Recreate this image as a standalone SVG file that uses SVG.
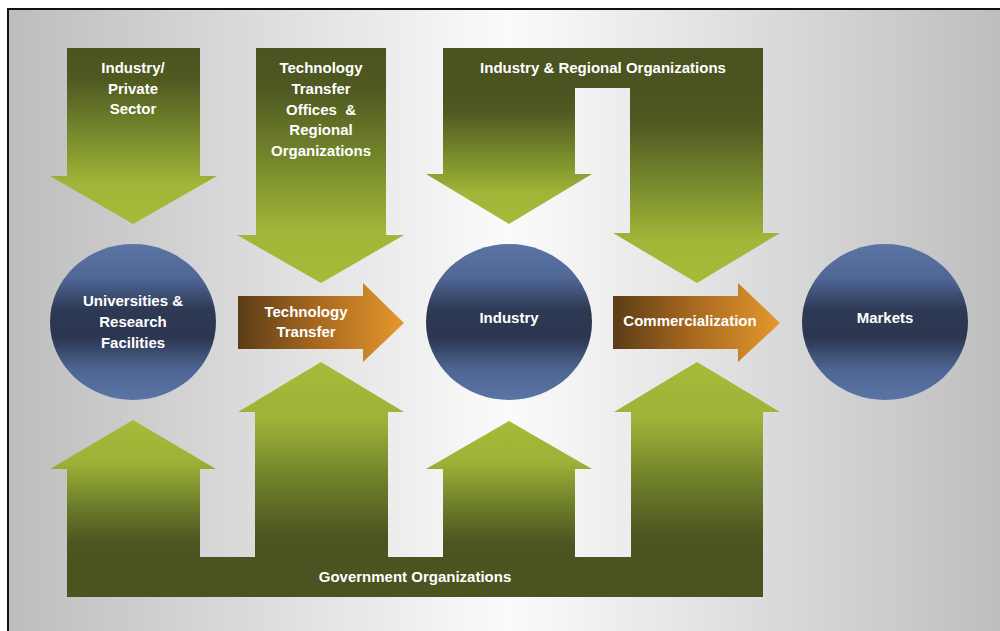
<svg xmlns="http://www.w3.org/2000/svg" width="1000" height="631" viewBox="0 0 1000 631">
  <defs>
    <linearGradient id="bg" x1="0" y1="0" x2="1" y2="0">
      <stop offset="0" stop-color="#bdbdbd"/>
      <stop offset="0.5" stop-color="#fbfbfb"/>
      <stop offset="1" stop-color="#bdbdbd"/>
    </linearGradient>
    <!-- downward green arrows: dark at the top, bright at the head -->
    <linearGradient id="greenDown" x1="0" y1="0" x2="0" y2="1">
      <stop offset="0" stop-color="#4b5320"/>
      <stop offset="0.18" stop-color="#4f5921"/>
      <stop offset="0.5" stop-color="#788b2d"/>
      <stop offset="0.78" stop-color="#a1b638"/>
      <stop offset="1" stop-color="#a6bb39"/>
    </linearGradient>
    <!-- upward green arrows: bright at the head, dark at the base -->
    <linearGradient id="greenUp" x1="0" y1="0" x2="0" y2="1">
      <stop offset="0" stop-color="#a6bb39"/>
      <stop offset="0.3" stop-color="#9db237"/>
      <stop offset="0.62" stop-color="#6c7d2a"/>
      <stop offset="0.88" stop-color="#4d5621"/>
      <stop offset="1" stop-color="#4b5320"/>
    </linearGradient>
    <linearGradient id="orange" x1="0" y1="0" x2="1" y2="0">
      <stop offset="0" stop-color="#5b3c17"/>
      <stop offset="0.45" stop-color="#a4661f"/>
      <stop offset="1" stop-color="#e5982c"/>
    </linearGradient>
    <linearGradient id="globe" x1="0" y1="0" x2="0" y2="1">
      <stop offset="0" stop-color="#5a74a4"/>
      <stop offset="0.22" stop-color="#4f6795"/>
      <stop offset="0.42" stop-color="#2e3954"/>
      <stop offset="0.6" stop-color="#2c3650"/>
      <stop offset="0.8" stop-color="#4d6592"/>
      <stop offset="1" stop-color="#5a74a4"/>
    </linearGradient>
  </defs>
  <style>
    .lbl { font-family: "Liberation Sans", Arial, sans-serif; font-weight: bold; font-size: 15px; fill: #ffffff; text-anchor: middle; }
    .down { fill: url(#greenDown); }
    .up { fill: url(#greenUp); }
    .bar { fill: #4b5320; }
    .flow { fill: url(#orange); }
    .globe { fill: url(#globe); }
  </style>

  <!-- backdrop and frame -->
  <rect x="0" y="0" width="1000" height="631" fill="#ffffff"/>
  <rect x="8" y="9" width="1000" height="640" fill="url(#bg)" stroke="#111111" stroke-width="2"/>

  <!-- supporting organisations: downward arrows -->
  <g id="industry-private-sector">
    <path class="down" d="M67,48 H200 V176 H217 L133,224 L50,176 H67 Z"/>
    <text class="lbl" x="133" y="73">Industry/</text>
    <text class="lbl" x="133" y="94">Private</text>
    <text class="lbl" x="133" y="114">Sector</text>
  </g>

  <g id="tto-regional-organizations">
    <path class="down" d="M256,48 H386 V235 H404 L321,283 L237,235 H256 Z"/>
    <text class="lbl" x="321" y="73">Technology</text>
    <text class="lbl" x="321" y="94">Transfer</text>
    <text class="lbl" x="321" y="115" xml:space="preserve">Offices  &amp;</text>
    <text class="lbl" x="321" y="135">Regional</text>
    <text class="lbl" x="321" y="156">Organizations</text>
  </g>

  <g id="industry-regional-organizations">
    <rect class="bar" x="443" y="48" width="320" height="40"/>
    <path class="down" d="M443,87 H575 V174 H592 L509,224 L426,174 H443 Z"/>
    <path class="down" d="M630,87 H763 V233 H780 L697,283 L613,233 H630 Z"/>
    <text class="lbl" x="603" y="73">Industry &amp; Regional Organizations</text>
  </g>

  <!-- government: upward arrows on a common base -->
  <g id="government-organizations">
    <path class="up" d="M133,420 L216,469 H200 V558 H67 V469 H50 Z"/>
    <path class="up" d="M321,362 L404,412 H388 V558 H255 V412 H238 Z"/>
    <path class="up" d="M509,421 L592,469 H575 V558 H443 V469 H426 Z"/>
    <path class="up" d="M697,362 L780,412 H763 V558 H631 V412 H614 Z"/>
    <rect class="bar" x="67" y="557" width="696" height="40"/>
    <text class="lbl" x="415" y="582">Government Organizations</text>
  </g>

  <!-- main actors -->
  <g id="universities">
    <ellipse class="globe" cx="133" cy="322" rx="83" ry="78"/>
    <text class="lbl" x="133" y="306">Universities &amp;</text>
    <text class="lbl" x="133" y="327">Research</text>
    <text class="lbl" x="133" y="348">Facilities</text>
  </g>

  <g id="industry">
    <ellipse class="globe" cx="509" cy="322" rx="83" ry="78"/>
    <text class="lbl" x="509" y="323">Industry</text>
  </g>

  <g id="markets">
    <ellipse class="globe" cx="885" cy="322" rx="83" ry="78"/>
    <text class="lbl" x="885" y="323">Markets</text>
  </g>

  <!-- flows between actors -->
  <g id="connectors">
    <g id="technology-transfer">
      <path class="flow" d="M238,296 H363 V283 L404,323 L363,362 V349 H238 Z"/>
      <text class="lbl" x="306" y="317">Technology</text>
      <text class="lbl" x="306" y="337">Transfer</text>
    </g>
    <g id="commercialization">
      <path class="flow" d="M613,296 H738 V283 L780,323 L738,362 V349 H613 Z"/>
      <text class="lbl" x="690" y="326">Commercialization</text>
    </g>
  </g>
</svg>
